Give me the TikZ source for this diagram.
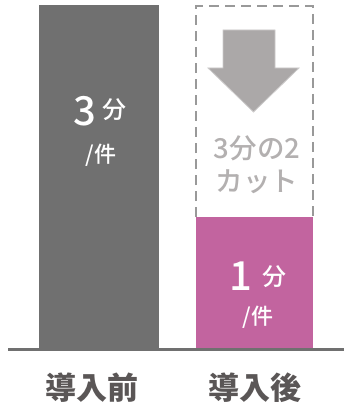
\documentclass[tikz,border=0pt]{standalone}
\usepackage{fontspec}
\usepackage{xcolor}
\usepackage{tikz}
\usetikzlibrary{calc}
\newfontfamily\jpfont{Noto Sans CJK JP}
\newfontfamily\jpmed{Noto Sans CJK JP Medium}
\newfontfamily\jpheavy{Noto Sans CJK JP Black}
\definecolor{barbefore}{HTML}{707070}
\definecolor{barafter}{HTML}{C2649F}
\definecolor{arrowgray}{HTML}{ABA8A8}
\definecolor{cutgray}{HTML}{B3B0B0}
\definecolor{labelgray}{HTML}{5A5656}

\begin{document}
\begin{tikzpicture}[x=1pt,y=-1pt,
  every node/.style={inner sep=0pt,font=\jpfont},
  bignum/.style={text=white,font=\jpmed\fontsize{40}{40}\selectfont},
  unit/.style={text=white,font=\jpmed\fontsize{24}{24}\selectfont},
  perunit/.style={text=white,font=\jpmed\fontsize{22}{22}\selectfont},
  cuttext/.style={text=cutgray,font=\jpmed\fontsize{27.5}{27.5}\selectfont},
  barlabel/.style={text=labelgray,font=\jpheavy\fontsize{31}{31}\selectfont}]
 	\useasboundingbox (0,0) rectangle (344,406);
 	% bars
 	\fill[barbefore] (39,5) rectangle (159,349);
 	\fill[barafter] (196,217) rectangle (313,349);
 	\draw[gray!80,line width=1.4pt,dash pattern=on 10pt off 6pt]
 		(196,217) -- (196,6) -- (313,6) -- (313,217);
 	% arrow
 	\fill[arrowgray,draw=arrowgray!60,line width=0.8pt]
 		(223,30) -- (275,30) -- (275,68) -- (299,68) -- (253.5,112)
 		-- (208,68) -- (223,68) -- cycle;
 	% base line
 	\draw[barbefore,line width=2.5pt] (8,349.5) -- (344,349.5);
 	% values
 	\node[bignum] (three) at (85,111) {3};
 	\node[unit] (threeunit) at (114.5,110) {分};
 	\node[perunit] (threeper) at (101,155) {/件};
 	\node[bignum] (one) at (241,276) {1};
 	\node[unit] (oneunit) at (274,277) {分};
 	\node[perunit] (oneper) at (258,317) {/件};
 	\node[cuttext] (cutA) at (257,148) {3分の2};
 	\node[cuttext] (cutB) at (257,182) {カット};
 	% labels
 	\node[barlabel] (before) at (92,388) {導入前};
 	\node[barlabel] (after) at (255,388) {導入後};
 \end{tikzpicture}
\end{document}
